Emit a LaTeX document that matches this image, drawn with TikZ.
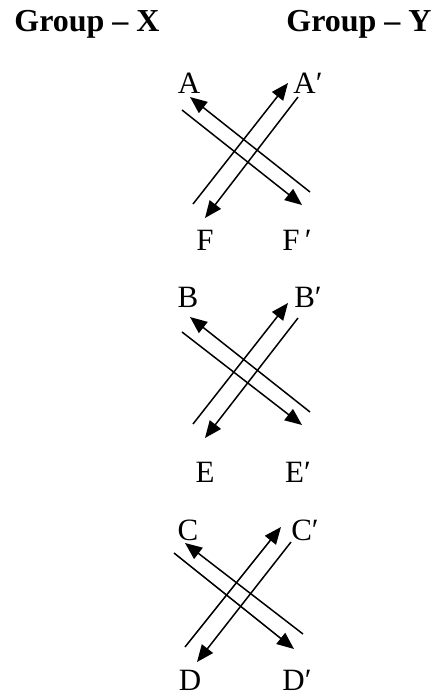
\documentclass[tikz,border=0pt]{standalone}
\usepackage{fontspec}
\setmainfont{Liberation Serif}
\usetikzlibrary{arrows.meta}

\begin{document}
\begin{tikzpicture}[
        x=1pt, y=-1pt,
        head/.style={font=\fontsize{32}{38}\selectfont\bfseries, inner sep=0pt},
        lbl/.style={font=\fontsize{31}{36}\selectfont, inner sep=0pt},
        arrow/.style={line width=1.5pt, color=black, -{Triangle[length=17pt, width=14pt]}}
    ]
    \useasboundingbox (0,0) rectangle (436,696);

    % Headings
    \node[head] (gx) at (87,24) {Group – X};
    \node[head] (gy) at (359,24) {Group – Y};

    % Labels
    \node[lbl] (A)  at (189,83)  {A};
    \node[lbl] (A') at (308,83)  {A′};
    \node[lbl] (F)  at (205,240) {F};
    \node[lbl] (F') at (297,240) {F\,′};
    \node[lbl] (B)  at (188,297) {B};
    \node[lbl] (B') at (308,297) {B′};
    \node[lbl] (E)  at (205,472) {E};
    \node[lbl] (E') at (298,472) {E′};
    \node[lbl] (C)  at (188,530) {C};
    \node[lbl] (C') at (305,530) {C′};
    \node[lbl] (D)  at (190,680) {D};
    \node[lbl] (D') at (297,680) {D′};

    % Line ends
    \coordinate (af1) at (182,110); \coordinate (af2) at (302,205);
    \coordinate (af3) at (310,192); \coordinate (af4) at (190,97);
    \coordinate (af5) at (193,204); \coordinate (af6) at (288,83);
    \coordinate (af7) at (298,97);  \coordinate (af8) at (205,218);

    \coordinate (be1) at (182,332); \coordinate (be2) at (302,425);
    \coordinate (be3) at (310,412); \coordinate (be4) at (190,317);
    \coordinate (be5) at (193,424); \coordinate (be6) at (288,303);
    \coordinate (be7) at (298,318); \coordinate (be8) at (205,438);

    \coordinate (cd1) at (174,553); \coordinate (cd2) at (294,649);
    \coordinate (cd3) at (303,634); \coordinate (cd4) at (185,543);
    \coordinate (cd5) at (185,647); \coordinate (cd6) at (281,527);
    \coordinate (cd7) at (291,542); \coordinate (cd8) at (197,662);

    % Connections
    \draw[arrow] (af1) -- (af2);
    \draw[arrow] (af3) -- (af4);
    \draw[arrow] (af5) -- (af6);
    \draw[arrow] (af7) -- (af8);

    \draw[arrow] (be1) -- (be2);
    \draw[arrow] (be3) -- (be4);
    \draw[arrow] (be5) -- (be6);
    \draw[arrow] (be7) -- (be8);

    \draw[arrow] (cd1) -- (cd2);
    \draw[arrow] (cd3) -- (cd4);
    \draw[arrow] (cd5) -- (cd6);
    \draw[arrow] (cd7) -- (cd8);

\end{tikzpicture}
\end{document}
